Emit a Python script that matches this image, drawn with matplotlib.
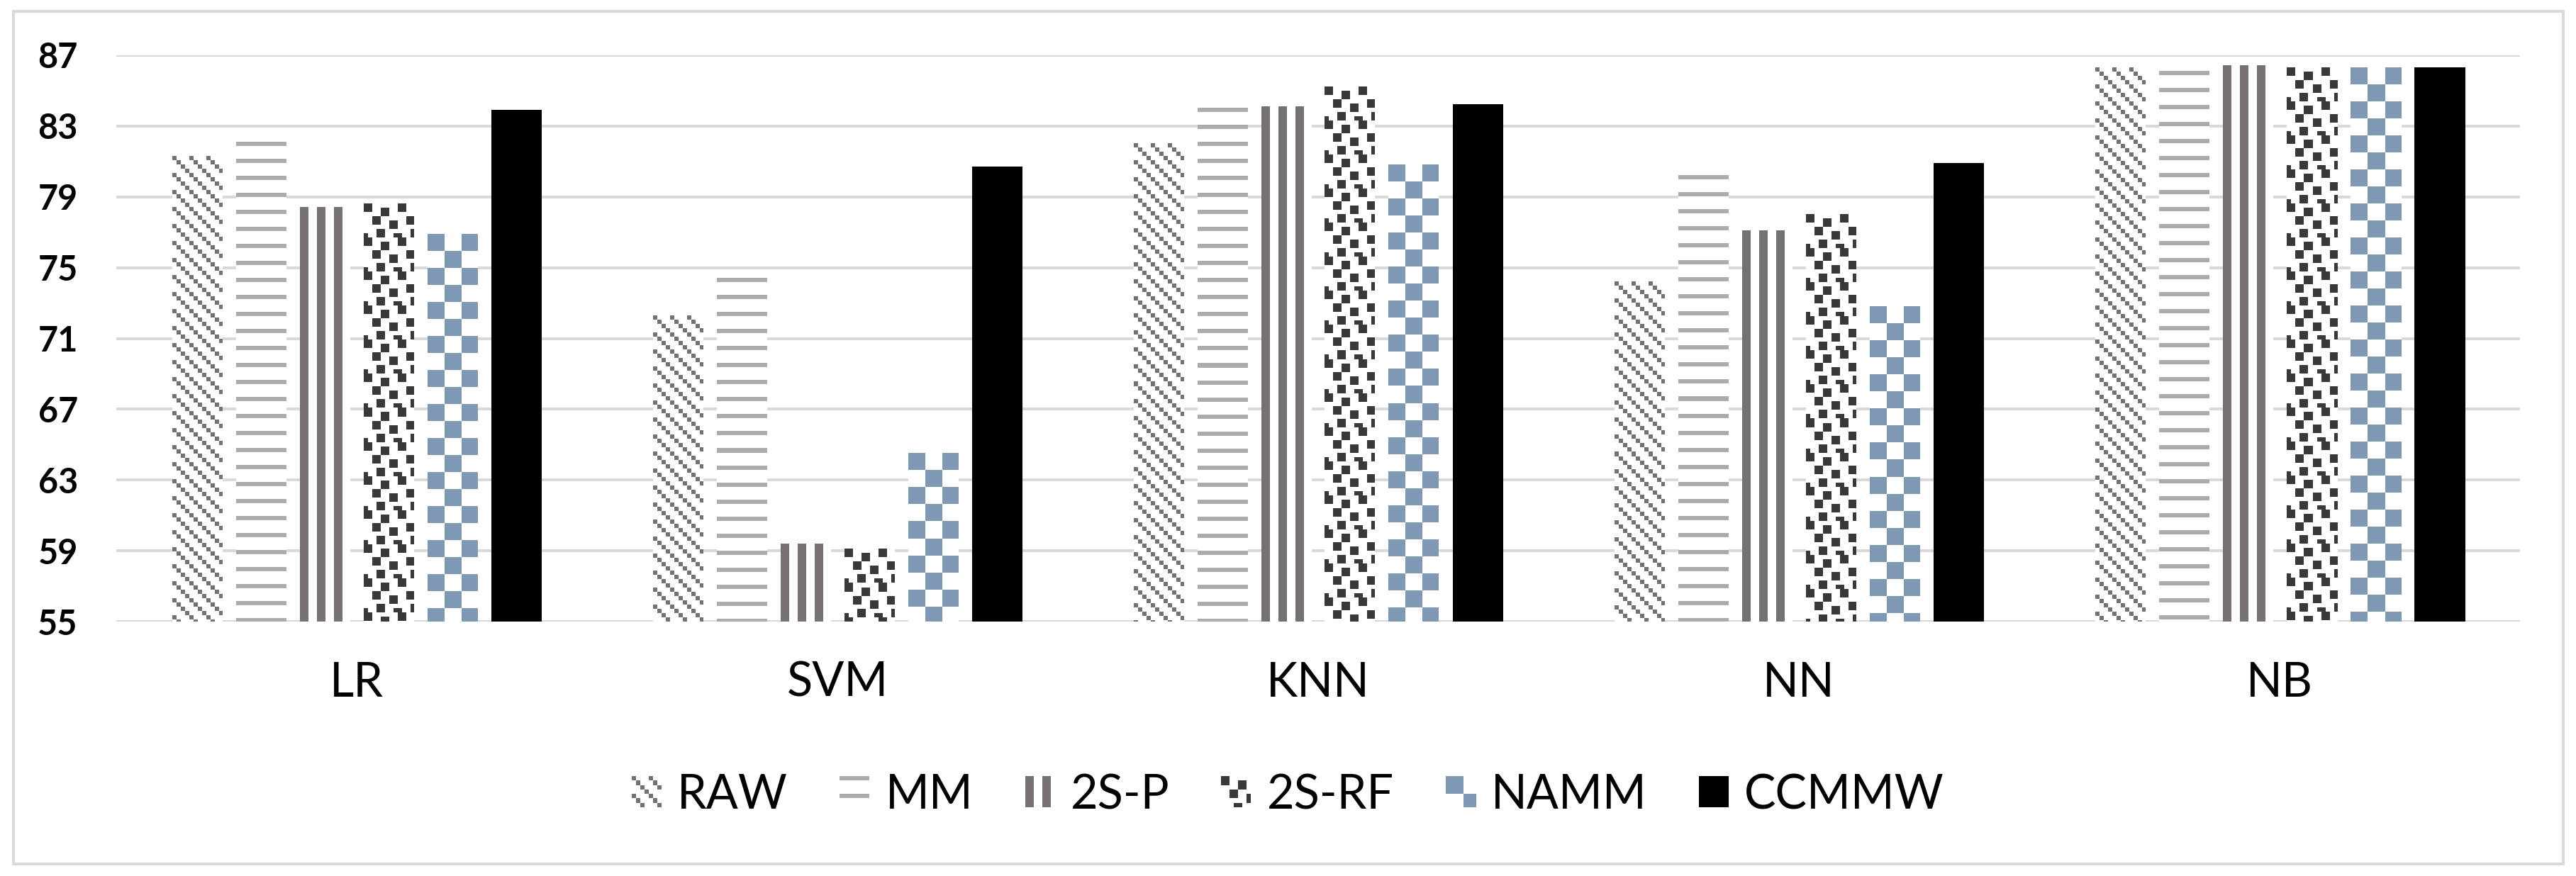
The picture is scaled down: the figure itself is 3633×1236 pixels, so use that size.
import numpy as np
import matplotlib
matplotlib.use('Agg')
import matplotlib.pyplot as plt
from matplotlib.patches import Rectangle
from matplotlib.legend_handler import HandlerBase
from matplotlib.image import BboxImage
from matplotlib.transforms import Bbox, TransformedBbox

# data
categories = ['LR', 'SVM', 'KNN', 'NN', 'NB']
methods = ['RAW', 'MM', '2S-P', '2S-RF', 'NAMM', 'CCMMW']
raw = [81.3, 72.3, 82.0, 74.2, 86.3]
mm = [82.1, 74.4, 84.0, 80.2, 86.1]
s2p = [78.4, 59.4, 84.1, 77.1, 86.4]
s2rf = [78.6, 59.1, 85.2, 78.0, 86.3]
namm = [76.9, 64.5, 80.8, 72.8, 86.3]
ccmmw = [83.9, 80.7, 84.2, 80.9, 86.3]
yticks = [55, 59, 63, 67, 71, 75, 79, 83, 87]

series = [raw, mm, s2p, s2rf, namm, ccmmw]
kinds = ['raw', 'mm', 's2p', 's2rf', 'namm', 'ccmmw']

plt.rcParams['font.family'] = ['Lato', 'DejaVu Sans']

GRID = '#D9D9D9'


def hex2rgb(h):
    return np.array([int(h[i:i + 2], 16) / 255 for i in (1, 3, 5)])


def make_tile(kind):
    # excel-like pattern fills, in pixels
    if kind == 'raw':
        t = np.ones((24, 24, 3))
        col = hex2rgb('#767171')
        for r in range(24):
            for c in range(24):
                if (c // 6 - r // 6) % 4 == 0:
                    t[r, c] = col
        return t
    if kind == 'mm':
        t = np.ones((24, 24, 3))
        t[0:6, :] = hex2rgb('#AEAAAA')
        return t
    if kind == 's2p':
        t = np.ones((24, 24, 3))
        t[:, 0:12] = hex2rgb('#767171')
        return t
    if kind == 's2rf':
        bits = ["11000000",
                "11001100",
                "00001100",
                "00110000",
                "00110011",
                "00000011",
                "00011000",
                "10011001"]
        small = np.array([[int(ch) for ch in row] for row in bits])
        big = np.kron(small, np.ones((6, 6)))
        t = np.ones((48, 48, 3))
        t[big == 1] = hex2rgb('#3B3838')
        return t
    if kind == 'namm':
        t = np.ones((48, 48, 3))
        col = hex2rgb('#7F99B5')
        t[0:24, 0:24] = col
        t[24:48, 24:48] = col
        return t
    return np.zeros((24, 24, 3))


def fill(kind, h, w):
    t = make_tile(kind)
    ny = h // t.shape[0] + 2
    nx = w // t.shape[1] + 2
    return np.tile(t, (ny, nx, 1))[:h, :w]


class PatternHandler(HandlerBase):
    def __init__(self, arr):
        super().__init__()
        self.arr = arr

    def create_artists(self, legend, orig_handle, xdescent, ydescent,
                       width, height, fontsize, trans):
        bb = Bbox.from_bounds(-xdescent, -ydescent, width, height)
        img = BboxImage(TransformedBbox(bb, trans), interpolation='nearest')
        img.set_data(self.arr)
        return [img]


fig = plt.figure(figsize=(36.33, 12.36), dpi=100)
ax = fig.add_axes([164 / 3633, 1 - 877 / 1236, 3390 / 3633, 799 / 1236])
ax.set_xlim(-0.5, 4.5)
ax.set_ylim(55, 87)

x = np.arange(len(categories))
step = 90 / 678
bw = 71 / 678

for k, (vals, kind) in enumerate(zip(series, kinds)):
    pos = x + (k - 2.5) * step
    bars = ax.bar(pos, np.array(vals) - 55, bottom=55, width=bw,
                  color='white', edgecolor='none', zorder=2)
    for b in bars:
        x0, y0 = b.get_x(), b.get_y()
        x1, y1 = x0 + b.get_width(), y0 + b.get_height()
        p0 = ax.transData.transform((x0, y0))
        p1 = ax.transData.transform((x1, y1))
        w = max(int(round(p1[0] - p0[0])), 1)
        h = max(int(round(p1[1] - p0[1])), 1)
        ax.imshow(fill(kind, h, w), extent=(x0, x1, y0, y1), aspect='auto',
                  interpolation='nearest', origin='upper', zorder=2.5)

ax.set_xlim(-0.5, 4.5)
ax.set_ylim(55, 87)
ax.set_yticks(yticks)
ax.set_yticklabels([str(v) for v in yticks], fontsize=35, fontweight='bold')
ax.set_xticks(x)
ax.set_xticklabels(categories, fontsize=48)
ax.tick_params(axis='y', length=0, pad=39)
ax.tick_params(axis='x', length=0, pad=40)
ax.grid(axis='y', color=GRID, linewidth=2.9)
ax.set_axisbelow(True)
for s in ax.spines.values():
    s.set_visible(False)

handles = []
hmap = {}
for kind, name in zip(kinds, methods):
    hd = Rectangle((0, 0), 1, 1)
    handles.append(hd)
    hmap[hd] = PatternHandler(fill(kind, 42, 42))

fig.legend(handles, methods, handler_map=hmap, loc='center',
           bbox_to_anchor=(0.5, 1 - 1122 / 1236), ncol=6, frameon=False,
           fontsize=48, handlelength=0.63, handleheight=0.63,
           handletextpad=0.33, columnspacing=1.1)

fig.patches.append(Rectangle((19 / 3633, 1 - 1219 / 1236), 3596 / 3633, 1203 / 1236,
                             transform=fig.transFigure, fill=False,
                             edgecolor=GRID, linewidth=2.9))

fig.savefig('out.png', dpi=100)
